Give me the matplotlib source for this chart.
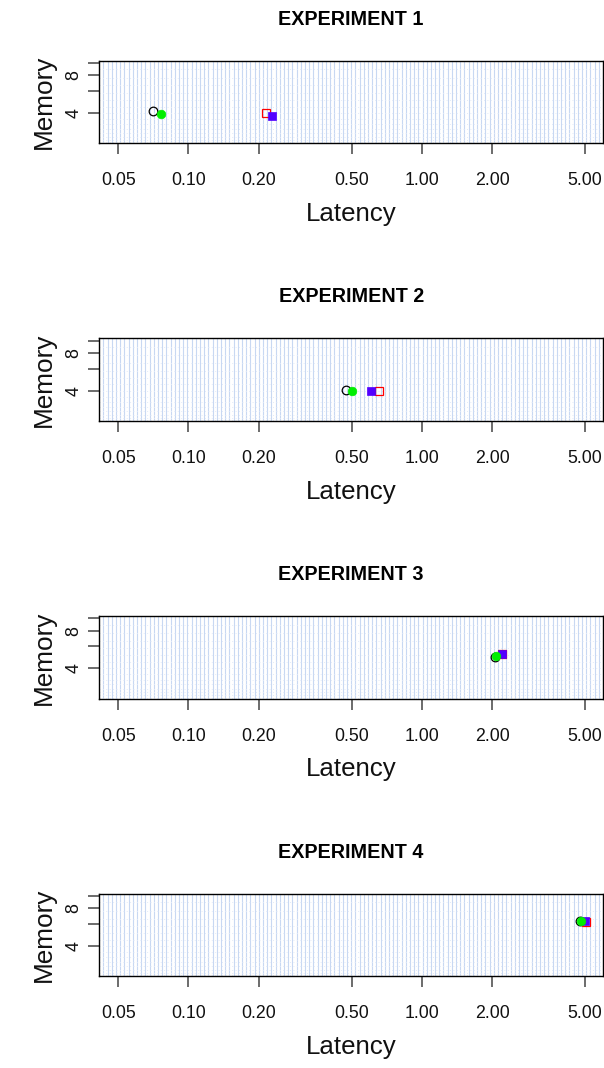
import numpy as np
import matplotlib
matplotlib.use("Agg")
import matplotlib.pyplot as plt

# ---- data ----
experiments = ["EXPERIMENT 1", "EXPERIMENT 2", "EXPERIMENT 3", "EXPERIMENT 4"]
# series: open black circle, open red square, filled blue square, filled green circle
lat_circle_open = [0.0703, 0.474, 2.06, 4.78]
mem_circle_open = [4.18, 4.02, 4.95, 6.30]
lat_square_open = [0.214, 0.657, 2.21, 5.06]
mem_square_open = [4.00, 3.95, 5.20, 6.20]
lat_square_fill = [0.228, 0.608, 2.20, 5.00]
mem_square_fill = [3.78, 3.97, 5.25, 6.35]
lat_circle_fill = [0.0764, 0.500, 2.07, 4.80]
mem_circle_fill = [3.90, 4.00, 4.98, 6.32]

x_ticks = [0.05, 0.10, 0.20, 0.50, 1.00, 2.00, 5.00]
x_ticklabels = ["0.05", "0.10", "0.20", "0.50", "1.00", "2.00", "5.00"]
y_ticks = [4, 6, 8, 10]
y_ticklabels = ["4", "", "8", ""]

xlim = (0.0415, 5.97)
ylim = (2.3, 10.45)

# ---- figure ----
W, H = 604, 1068
dpi = 100
plt.rcParams['font.family'] = ['Liberation Sans', 'DejaVu Sans']
fig = plt.figure(figsize=(W / dpi, H / dpi), dpi=dpi)

left_px, right_px = 99.3, 603.0
box_h = 82.5
top0 = 60.7
step = 277.7

grid_blue = "#c8d8f2"
for i, title in enumerate(experiments):
    top = top0 + step * i
    ax = fig.add_axes([left_px / W, 1 - (top + box_h) / H,
                       (right_px - left_px) / W, box_h / H])
    ax.set_xscale("log")
    ax.set_yscale("log")
    ax.set_xlim(*xlim)
    ax.set_ylim(*ylim)

    # background grid (uniform in log space)
    lx = np.linspace(np.log10(xlim[0]), np.log10(xlim[1]), 121)[1:-1]
    ax.vlines(10 ** lx, ylim[0], ylim[1], colors=grid_blue, linewidth=0.8,
              zorder=0)
    ly0, ly1 = np.log10(ylim[0]), np.log10(ylim[1])
    t = np.linspace(0, 1, 16)[1:-1] ** 1.6
    ax.hlines(10 ** (ly0 + t * (ly1 - ly0)), xlim[0], xlim[1],
              colors="#e2eaf8", linewidth=0.7, linestyles=(0, (1, 2.5)),
              zorder=0)

    ms = 6.2
    ax.plot(lat_circle_open[i], mem_circle_open[i], linestyle="none",
            marker="o", ms=ms, mfc="none", mec="black", mew=0.9, zorder=3)
    ax.plot(lat_square_open[i], mem_square_open[i], linestyle="none",
            marker="s", ms=ms, mfc="none", mec="#ff0000", mew=0.9, zorder=3)
    ax.plot(lat_square_fill[i], mem_square_fill[i], linestyle="none",
            marker="s", ms=ms, mfc="#5200ff", mec="#5200ff", mew=0.5, zorder=3)
    ax.plot(lat_circle_fill[i], mem_circle_fill[i], linestyle="none",
            marker="o", ms=ms, mfc="#00ee00", mec="#00ee00", mew=0.5, zorder=3)

    ax.set_xticks(x_ticks)
    ax.set_xticklabels(x_ticklabels)
    ax.xaxis.set_minor_locator(matplotlib.ticker.NullLocator())
    ax.set_yticks(y_ticks)
    ax.set_yticklabels(y_ticklabels, rotation=90, va="center")
    ax.yaxis.set_minor_locator(matplotlib.ticker.NullLocator())
    ax.tick_params(axis="both", direction="out", length=8, width=1.1,
                   color="#444444", labelsize=12.8, labelcolor="#111111")
    ax.tick_params(axis="x", pad=13)
    ax.tick_params(axis="y", pad=4)
    for s in ax.spines.values():
        s.set_linewidth(1.0)
        s.set_color("black")

    ax.set_xlabel("Latency", fontsize=18.6, labelpad=9, color="#111111")
    ax.set_ylabel("Memory", fontsize=18.8, labelpad=7, color="#111111")

    # title centred over the plot box
    fig.text((left_px + right_px) / 2 / W, 1 - (top - 41.5) / H, title,
             ha="center", va="center", fontsize=14.2, fontweight="bold")

fig.savefig("out.png", dpi=dpi)
